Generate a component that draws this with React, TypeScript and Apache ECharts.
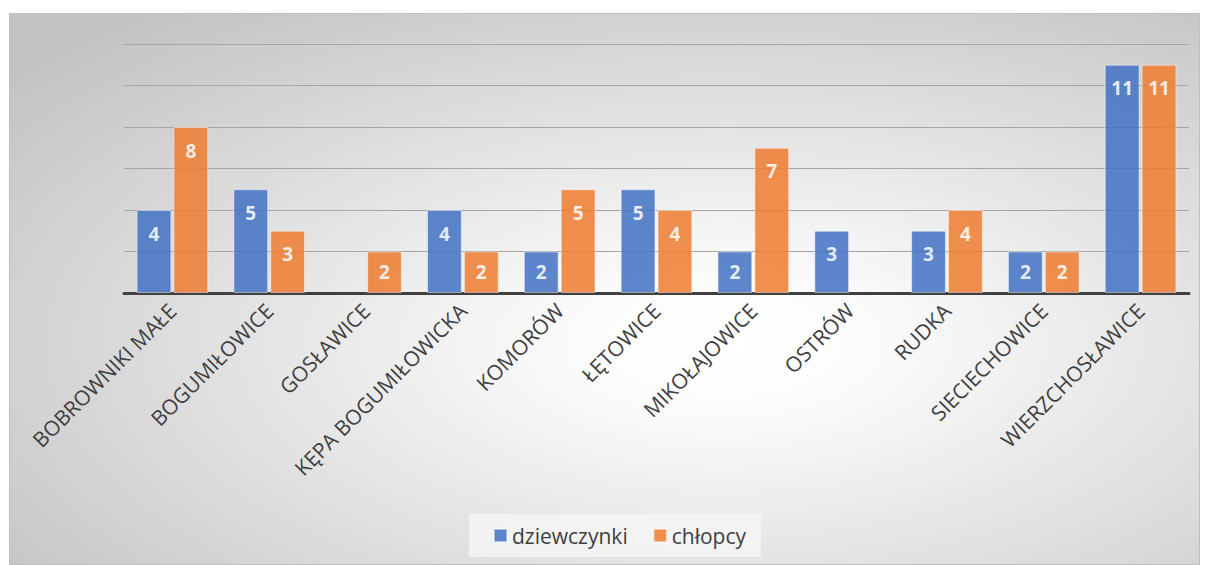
import React, { useEffect, useRef } from "react";
import * as echarts from "echarts";

const categories = [
  "BOBROWNIKI MAŁE",
  "BOGUMIŁOWICE",
  "GOSŁAWICE",
  "KĘPA BOGUMIŁOWICKA",
  "KOMORÓW",
  "ŁĘTOWICE",
  "MIKOŁAJOWICE",
  "OSTRÓW",
  "RUDKA",
  "SIECIECHOWICE",
  "WIERZCHOSŁAWICE",
];
const dziewczynki = [4, 5, 0, 4, 2, 5, 2, 3, 3, 2, 11];
const chlopcy = [8, 3, 2, 2, 5, 4, 7, 0, 4, 2, 11];

const FONT = "'Open Sans', 'Noto Sans', sans-serif";

function buildData(values: number[]) {
  return values.map((v) => {
    if (v === 0) return { value: v, itemStyle: { borderWidth: 0, opacity: 0 } };
    if (v <= 2) return { value: v, label: { position: "inside" as const } };
    return { value: v };
  });
}

export default function App() {
  const ref = useRef<HTMLDivElement>(null);
  useEffect(() => {
    if (!ref.current) return;
    const chart = echarts.init(ref.current, undefined, { renderer: "svg" });
    const label = {
      show: true,
      position: "insideTop" as const,
      distance: 14,
      color: "#ffffff",
      fontWeight: "bold" as const,
      fontSize: 19,
      fontFamily: FONT,
      formatter: (p: any) => (p.value ? String(p.value) : ""),
    };
    chart.setOption({
      animation: false,
      backgroundColor: {
        type: "radial",
        x: 0.6,
        y: 0.6,
        r: 0.78,
        colorStops: [
          { offset: 0, color: "#ffffff" },
          { offset: 0.15, color: "#fcfcfc" },
          { offset: 1, color: "#c2c2c2" },
        ],
      },
      grid: { left: 114, right: 10, top: 30, bottom: 271 },
      legend: {
        left: 459,
        top: 500,
        backgroundColor: "rgba(245,245,245,0.85)",
        padding: [11, 15, 11, 24],
        itemWidth: 13,
        itemHeight: 13,
        itemGap: 25,
        icon: "rect",
        textStyle: { fontSize: 21, color: "#404040", fontFamily: FONT },
        data: ["dziewczynki", "chłopcy"],
      },
      xAxis: {
        type: "category",
        data: categories,
        axisLine: { show: true, lineStyle: { color: "#404040", width: 3 } },
        axisTick: { show: false },
        axisLabel: {
          rotate: 45,
          interval: 0,
          color: "#404040",
          fontSize: 21,
          fontFamily: FONT,
          margin: 14,
        },
      },
      yAxis: {
        type: "value",
        min: 0,
        max: 12,
        interval: 2,
        axisLabel: { show: false },
        axisLine: { show: false },
        axisTick: { show: false },
        splitLine: { lineStyle: { color: "#a6a6a6", width: 1 } },
      },
      series: [
        {
          name: "dziewczynki",
          type: "bar",
          data: buildData(dziewczynki),
          barGap: "6%",
          barCategoryGap: "26%",
          itemStyle: {
            color: "#4472C4",
            opacity: 0.86,
            borderColor: "rgba(255,255,255,0.55)",
            borderWidth: 1,
          },
          label,
        },
        {
          name: "chłopcy",
          type: "bar",
          data: buildData(chlopcy),
          barGap: "6%",
          barCategoryGap: "26%",
          itemStyle: {
            color: "#ED7D31",
            opacity: 0.86,
            borderColor: "rgba(255,255,255,0.55)",
            borderWidth: 1,
          },
          label,
        },
      ],
    });
    return () => chart.dispose();
  }, []);
  return (
    <div
      ref={ref}
      style={{
        position: "absolute",
        left: 9,
        top: 13,
        width: 1191,
        height: 552,
        boxSizing: "border-box",
        border: "1px solid #bfbfbf",
      }}
    />
  );
}
